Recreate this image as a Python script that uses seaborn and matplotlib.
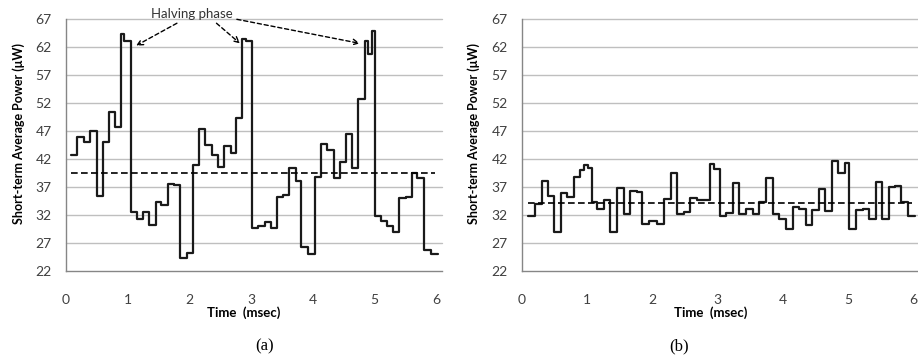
import matplotlib
matplotlib.use("Agg")
import matplotlib.pyplot as plt
import seaborn as sns
import numpy as np

# ---------------- data ----------------
# (a) step start times (msec) and short-term average power (uW)
a_time = [0.09, 0.19, 0.29, 0.39, 0.50, 0.60, 0.70, 0.80, 0.90, 0.95,
          1.05, 1.15, 1.25, 1.35, 1.46, 1.55, 1.65, 1.75, 1.85, 1.96,
          2.06, 2.16, 2.26, 2.37, 2.47, 2.57, 2.67, 2.76, 2.86, 2.91,
          3.01, 3.11, 3.22, 3.32, 3.42, 3.52, 3.62, 3.72, 3.81, 3.92,
          4.03, 4.13, 4.23, 4.34, 4.44, 4.54, 4.63, 4.73, 4.85, 4.90, 4.95,
          5.00, 5.10, 5.20, 5.30, 5.40, 5.50, 5.61, 5.68, 5.80, 5.91]
a_power = [42.8, 45.9, 45.0, 47.1, 35.5, 45.0, 50.5, 47.8, 64.3, 63.2,
           32.5, 31.3, 32.6, 30.3, 34.3, 33.8, 37.5, 37.4, 24.4, 25.3,
           40.9, 47.5, 44.6, 42.7, 40.6, 44.3, 43.1, 49.3, 63.5, 63.1,
           29.7, 30.0, 30.8, 29.7, 35.2, 35.6, 40.5, 38.1, 26.4, 25.1,
           38.9, 44.7, 43.7, 38.6, 41.6, 46.5, 40.4, 52.8, 63.2, 60.8, 64.9,
           31.8, 31.0, 30.1, 29.1, 35.0, 35.2, 39.5, 38.6, 25.8, 25.1]
a_end = 6.02
a_mean = 39.5

# (b)
b_time = [0.09, 0.21, 0.31, 0.40, 0.50, 0.60, 0.70, 0.80, 0.90, 0.95, 1.02,
          1.07, 1.16, 1.26, 1.36, 1.46, 1.56, 1.66, 1.76, 1.85, 1.95,
          2.08, 2.18, 2.29, 2.38, 2.49, 2.58, 2.68, 2.78, 2.89, 2.94,
          3.03, 3.13, 3.23, 3.33, 3.44, 3.54, 3.64, 3.74, 3.85, 3.94,
          4.05, 4.15, 4.24, 4.35, 4.44, 4.56, 4.65, 4.75, 4.85, 4.95,
          5.02, 5.12, 5.22, 5.32, 5.42, 5.52, 5.62, 5.72, 5.81, 5.91]
b_power = [31.8, 34.1, 38.1, 35.5, 29.1, 35.9, 35.3, 38.9, 40.0, 40.9, 40.5,
           34.3, 33.2, 34.7, 29.1, 36.8, 32.2, 36.3, 36.1, 30.4, 31.0,
           30.4, 34.9, 39.6, 32.2, 32.5, 35.1, 34.8, 34.7, 41.1, 40.2,
           31.9, 32.4, 37.7, 32.2, 33.2, 32.2, 34.4, 38.7, 32.2, 31.3,
           29.5, 33.5, 33.2, 30.3, 32.9, 36.7, 32.8, 41.7, 39.6, 41.4,
           29.6, 32.9, 33.1, 31.3, 37.9, 31.3, 37.1, 37.3, 34.3, 31.8]
b_end = 6.03
b_mean = 34.2

y_ticks = [22, 27, 32, 37, 42, 47, 52, 57, 62, 67]
x_ticks = [0, 1, 2, 3, 4, 5, 6]
y_label = "Short-term Average Power (μW)"
x_label = "Time  (msec)"
captions = ["(a)", "(b)"]
note_text = "Halving phase"

# ---------------- style ----------------
sns.set_style("white")
plt.rcParams["font.family"] = ["Lato", "DejaVu Sans"]

W, H = 918, 360
fig = plt.figure(figsize=(W / 100, H / 100), dpi=100)

def fx(px):
    return px / W

def fy(py):
    return 1 - py / H

top_px, bot_px = 19.3, 271.3
ax_a = fig.add_axes([fx(65.7), fy(bot_px), fx(442.0 - 65.7), (bot_px - top_px) / H])
ax_b = fig.add_axes([fx(521.7), fy(bot_px), fx(918.0 - 521.7), (bot_px - top_px) / H])

grid_c = "#BFBFBF"
axis_c = "#868686"
tick_c = "#404040"
line_c = "#1A1A1A"

def draw(ax, t, p, t_end, mean, xmax):
    xs = list(t) + [t_end]
    ys = list(p) + [p[-1]]
    sns.lineplot(x=xs, y=ys, ax=ax, drawstyle="steps-post", estimator=None,
                 sort=False, color=line_c, lw=1.6, zorder=3)
    sns.lineplot(x=[t[0], 5.98], y=[mean, mean], ax=ax, estimator=None,
                 sort=False, color="black", lw=1.2, linestyle=(0, (4, 2)), zorder=4)
    ax.set_xlim(0, xmax)
    ax.set_ylim(22, 67)
    ax.set_yticks(y_ticks)
    ax.set_xticks(x_ticks)
    ax.grid(False)
    for v in y_ticks[1:]:
        ax.axhline(v, color=grid_c, lw=1.0, zorder=1, clip_on=False)
    for s in ["top", "right"]:
        ax.spines[s].set_visible(False)
    for s in ["left", "bottom"]:
        ax.spines[s].set_color(axis_c)
        ax.spines[s].set_linewidth(1.0)
    ax.tick_params(axis="both", direction="out", length=4, width=1,
                   color=axis_c, labelcolor=tick_c, labelsize=10)
    ax.tick_params(axis="x", pad=12)
    ax.tick_params(axis="y", pad=6)
    ax.set_xlabel("")
    ax.set_ylabel("")

draw(ax_a, a_time, a_power, a_end, a_mean, 6.09)
draw(ax_b, b_time, b_power, b_end, b_mean, 6.07)

# annotation on (a)
ax_a.text(2.05, 67.9, note_text, ha="center", va="center", fontsize=9.5,
          color="#333333", clip_on=False)
arrows = [((1.80, 66.3), (1.14, 62.3)),
          ((2.44, 66.3), (2.82, 62.7)),
          ((2.77, 67.0), (4.76, 62.7))]
for start, end in arrows:
    ax_a.annotate("", xy=end, xytext=start, annotation_clip=False,
                  arrowprops=dict(arrowstyle="->", linestyle=(0, (3, 2)),
                                  lw=1.0, color="black",
                                  shrinkA=0, shrinkB=0, mutation_scale=10))

# axis titles
for xc in [244, 711]:
    fig.text(fx(xc), fy(312.7), x_label, ha="center", va="center",
             fontsize=9.5, fontweight="bold", color="black")
for yl_x in [18.3, 474]:
    fig.text(fx(yl_x), fy(134), y_label, ha="center", va="center",
             rotation=90, fontsize=9, fontweight="bold", color="black")
for cap, cx in zip(captions, [265, 679]):
    fig.text(fx(cx), fy(346.7), cap, ha="center", va="center",
             fontsize=12, family=["Liberation Serif", "DejaVu Serif"], color="black")

fig.savefig("out.png", dpi=100)
